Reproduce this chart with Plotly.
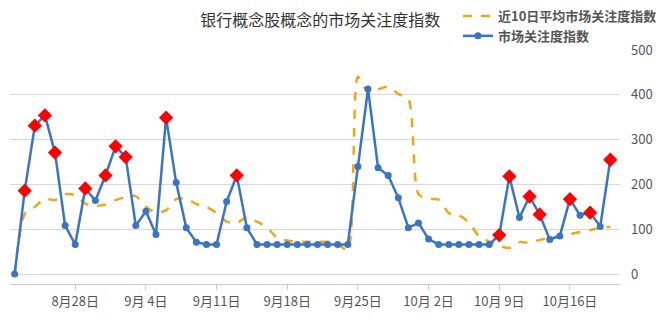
import plotly.graph_objects as go
import pandas as pd

start_date = "2023-08-22"
n_days = 60
dates = [d.strftime("%Y-%m-%d") for d in pd.date_range(start_date, periods=n_days, freq="D")]

attention = [0, 186, 331, 354, 271, 108, 66, 191, 164, 220,
             285, 261, 108, 140, 88, 349, 204, 103, 71, 66,
             66, 162, 220, 103, 66, 66, 66, 66, 66, 66,
             66, 66, 66, 66, 240, 413, 237, 220, 170, 103,
             114, 78, 66, 66, 66, 66, 66, 66, 87, 218,
             126, 173, 133, 77, 85, 167, 131, 137, 106, 255]

avg10 = [0, 134, 150, 168, 165, 178, 176, 157, 152, 155,
         165, 172, 174, 150, 137, 142, 167, 168, 156, 150,
         136, 117, 114, 127, 117, 104, 81, 75, 72, 72,
         72, 72, 67, 53, 440, 405, 412, 418, 402, 390,
         178, 168, 166, 136, 131, 115, 84, 73, 63, 58,
         71, 70, 76, 81, 84, 89, 94, 98, 103, 105]

highlight = [1, 2, 3, 4, 7, 9, 10, 11, 15, 22, 48, 49, 51, 52, 55, 57, 59]

tick_dates = ["2023-08-28", "2023-09-04", "2023-09-11", "2023-09-18",
              "2023-09-25", "2023-10-02", "2023-10-09", "2023-10-16"]
tick_text = ["8月28日", "9月 4日", "9月11日", "9月18日",
             "9月25日", "10月 2日", "10月 9日", "10月16日"]
y_ticks = [0, 100, 200, 300, 400, 500]

title_text = "银行概念股概念的市场关注度指数"
name_avg = "近10日平均市场关注度指数"
name_att = "市场关注度指数"

CJK = "Noto Sans CJK SC, Noto Sans, sans-serif"

fig = go.Figure()
fig.add_trace(go.Scatter(
    x=dates, y=avg10, name=name_avg, mode="lines",
    line=dict(color="#f2a516", width=2.5, dash="dash", shape="spline", smoothing=0.7),
))
fig.add_trace(go.Scatter(
    x=dates, y=attention, name=name_att, mode="lines+markers",
    line=dict(color="#3a74c6", width=2.5),
    marker=dict(color="#3a74c6", size=7, symbol="circle"),
))
fig.add_trace(go.Scatter(
    x=[dates[i] for i in highlight], y=[attention[i] for i in highlight],
    mode="markers", showlegend=False, hoverinfo="skip",
    marker=dict(color="#ff0000", size=11, symbol="diamond"),
))

x0 = pd.Timestamp(dates[0]) - pd.Timedelta(hours=11)
x1 = pd.Timestamp(dates[-1]) + pd.Timedelta(hours=23)

fig.update_layout(
    width=663, height=318,
    margin=dict(l=10, r=43, t=50, b=34, autoexpand=False),
    paper_bgcolor="white", plot_bgcolor="white",
    font=dict(family=CJK, color="#555555", size=13),
    title=dict(text=title_text, x=0.483, xref="container", xanchor="center",
               y=1 - 20 / 318, yref="container", yanchor="middle",
               font=dict(size=16, color="#333333", family=CJK)),
    legend=dict(x=458 / 663, xref="container", xanchor="left",
                y=1 - 1 / 318, yref="container", yanchor="top",
                font=dict(size=13, color="#555555", family=CJK, weight="bold"),
                itemwidth=30, tracegroupgap=0, bgcolor="rgba(0,0,0,0)"),
    showlegend=True,
)
fig.update_xaxes(
    type="date", range=[x0, x1],
    tickvals=tick_dates, ticktext=tick_text, tickangle=0,
    showgrid=False, zeroline=False,
    showline=True, linecolor="#bccde0", linewidth=1,
    ticks="outside", ticklen=5, tickcolor="#bccde0",
    tickfont=dict(size=13, color="#555555", family=CJK),
)
fig.update_yaxes(
    range=[-22.3, 500], side="right", tickvals=y_ticks,
    showgrid=True, gridcolor="#d9d9d9", gridwidth=1,
    zeroline=False, showline=False, ticks="",
    ticklabelstandoff=10,
    tickfont=dict(size=13, color="#555555", family=CJK),
)

fig.write_html("out.html")
